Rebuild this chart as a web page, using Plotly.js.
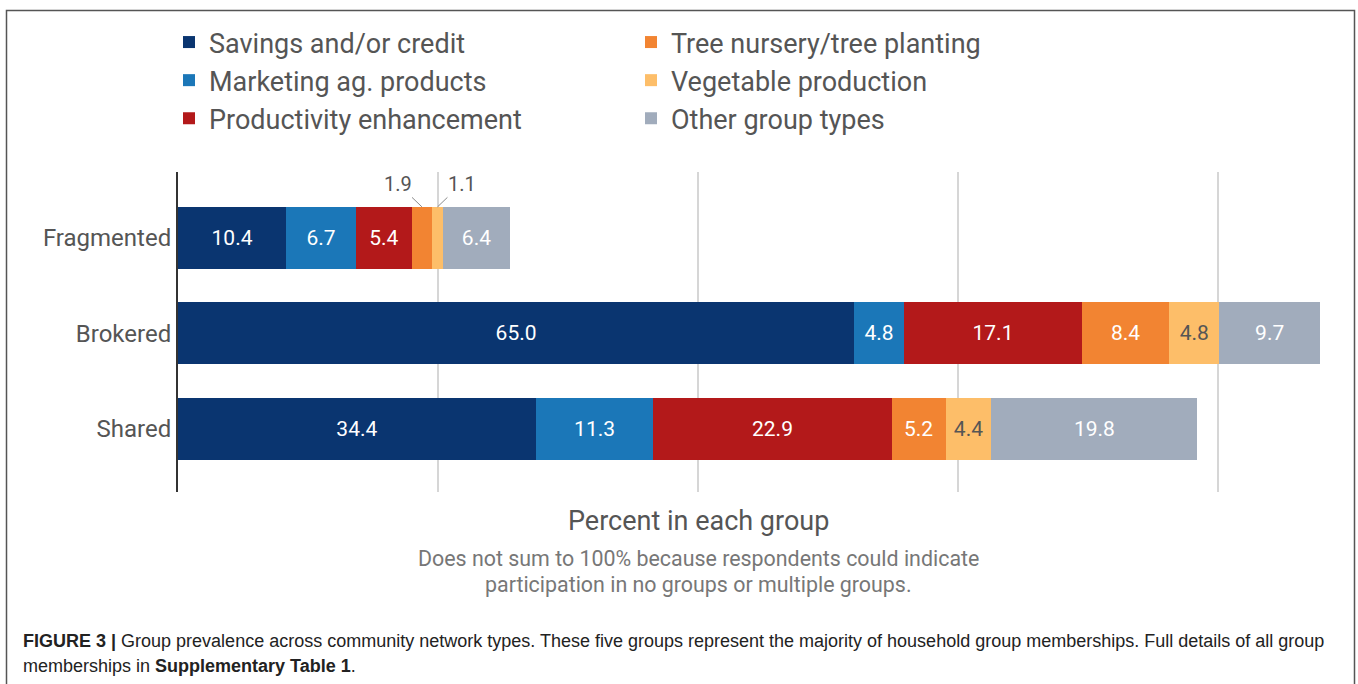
<!DOCTYPE html>
<html><head><meta charset="utf-8">
<script src="https://cdn.plot.ly/plotly-3.0.1.min.js"></script>
<style>html,body{margin:0;padding:0;background:#fff;overflow:hidden;}#chart{width:1358px;height:684px;}</style>
</head><body><div id="chart"></div>
<script>
// ---- data ----
const categories = ['Fragmented', 'Brokered', 'Shared'];
const seriesNames = ['Savings and/or credit', 'Marketing ag. products', 'Productivity enhancement',
                     'Tree nursery/tree planting', 'Vegetable production', 'Other group types'];
const savings      = [10.4, 65.0, 34.4];
const marketing    = [6.7, 4.8, 11.3];
const productivity = [5.4, 17.1, 22.9];
const tree         = [1.9, 8.4, 5.2];
const vegetable    = [1.1, 4.8, 4.4];
const other        = [6.4, 9.7, 19.8];
const gridTicks    = [25, 50, 75, 100];

const seriesValues = [savings, marketing, productivity, tree, vegetable, other];
const colors = ['#0a3570', '#1b77b8', '#b3191a', '#f28432', '#fdbe69', '#a1acbc'];
const labelColors = ['#ffffff', '#ffffff', '#ffffff', '#ffffff', '#555555', '#ffffff'];
const legendRanks = [1, 3, 5, 2, 4, 6];
const outsideThreshold = 3; // segments narrower than this get an outside callout

// ---- geometry ----
const W = 1358, H = 684;
const M = {l: 178, r: 15, t: 172, b: 192};
const plotW = W - M.l - M.r, plotH = H - M.t - M.b;
const px2x = px => (px - M.l) / plotW;
const py2y = py => (M.t + plotH - py) / plotH;

const FONT = 'Roboto, "Noto Sans", sans-serif';
const CAPFONT = '"Liberation Sans", Arial, sans-serif';
const GREY = '#555555';

const traces = seriesNames.map((name, i) => ({
  type: 'bar',
  orientation: 'h',
  name: name,
  y: categories,
  x: seriesValues[i],
  text: seriesValues[i].map(v => v < outsideThreshold ? '' : v.toFixed(1)),
  textposition: 'inside',
  insidetextanchor: 'middle',
  textangle: 0,
  constraintext: 'none',
  insidetextfont: {family: FONT, size: 21, color: labelColors[i]},
  marker: {color: colors[i], line: {width: 0}},
  legendrank: legendRanks[i],
  hoverinfo: 'name+x'
}));

// callouts for the narrow segments
const halfBar = (1 - 0.35) / 2;
const callouts = [];
categories.forEach((cat, ci) => {
  let cum = 0;
  seriesValues.forEach((vals, si) => {
    const v = vals[ci];
    if (v < outsideThreshold) {
      const left = si === 3;
      callouts.push({
        x: cum + v / 2, y: ci - halfBar, xref: 'x', yref: 'y',
        text: v.toFixed(1), showarrow: true, arrowhead: 0, arrowwidth: 1, arrowcolor: '#8a8a8a',
        ax: left ? -24 : 24, ay: -23, standoff: 0,
        font: {family: FONT, size: 20, color: GREY}
      });
    }
    cum += v;
  });
});

const annotations = callouts.concat([
  {xref: 'x', yref: 'paper', x: 50, y: py2y(521), xanchor: 'center', yanchor: 'middle', showarrow: false,
   text: 'Percent in each group', font: {family: FONT, size: 27, color: GREY}},
  {xref: 'x', yref: 'paper', x: 50, y: py2y(558), xanchor: 'center', yanchor: 'middle', showarrow: false,
   text: 'Does not sum to 100% because respondents could indicate',
   font: {family: FONT, size: 21.4, color: '#777777'}},
  {xref: 'x', yref: 'paper', x: 50, y: py2y(584), xanchor: 'center', yanchor: 'middle', showarrow: false,
   text: 'participation in no groups or multiple groups.',
   font: {family: FONT, size: 21.4, color: '#777777'}},
  {xref: 'paper', yref: 'paper', x: px2x(21), y: py2y(641), xanchor: 'left', yanchor: 'middle', showarrow: false, align: 'left',
   text: '<b>FIGURE 3 |</b> Group prevalence across community network types. These five groups represent the majority of household group memberships. Full details of all group',
   font: {family: CAPFONT, size: 18, color: '#222222'}},
  {xref: 'paper', yref: 'paper', x: px2x(21), y: py2y(666), xanchor: 'left', yanchor: 'middle', showarrow: false, align: 'left',
   text: 'memberships in <b>Supplementary Table 1</b>.',
   font: {family: CAPFONT, size: 18, color: '#222222'}}
]);

const layout = {
  width: W, height: H,
  margin: M,
  paper_bgcolor: '#ffffff', plot_bgcolor: '#ffffff',
  barmode: 'stack', bargap: 0.35,
  font: {family: FONT, color: GREY},
  xaxis: {range: [0, 112], tickvals: gridTicks, showticklabels: false, showgrid: true,
          gridcolor: '#d6d6d6', gridwidth: 2, zeroline: false, showline: false, ticks: '', fixedrange: true},
  yaxis: {type: 'category', categoryorder: 'array', categoryarray: categories,
          range: [2.66, -0.69], showline: true, linecolor: '#333333', linewidth: 2, ticks: '',
          showgrid: false, zeroline: false, tickfont: {family: FONT, size: 24, color: GREY}, fixedrange: true},
  showlegend: true,
  legend: {orientation: 'h', xref: 'container', yref: 'container', x: 169 / W, y: 1 - 18 / H,
           xanchor: 'left', yanchor: 'top', entrywidth: 417, entrywidthmode: 'pixels',
           traceorder: 'normal', font: {family: FONT, size: 27, color: GREY}, bgcolor: 'rgba(0,0,0,0)'},
  shapes: [{type: 'rect', xref: 'paper', yref: 'paper', x0: px2x(6.5), x1: px2x(1354.5), y0: py2y(720), y1: py2y(10.5),
            line: {color: '#555555', width: 1.5}, fillcolor: 'rgba(0,0,0,0)', layer: 'below'}],
  annotations: annotations
};

Plotly.newPlot('chart', traces, layout, {displayModeBar: false, responsive: false});
</script>
</body></html>
